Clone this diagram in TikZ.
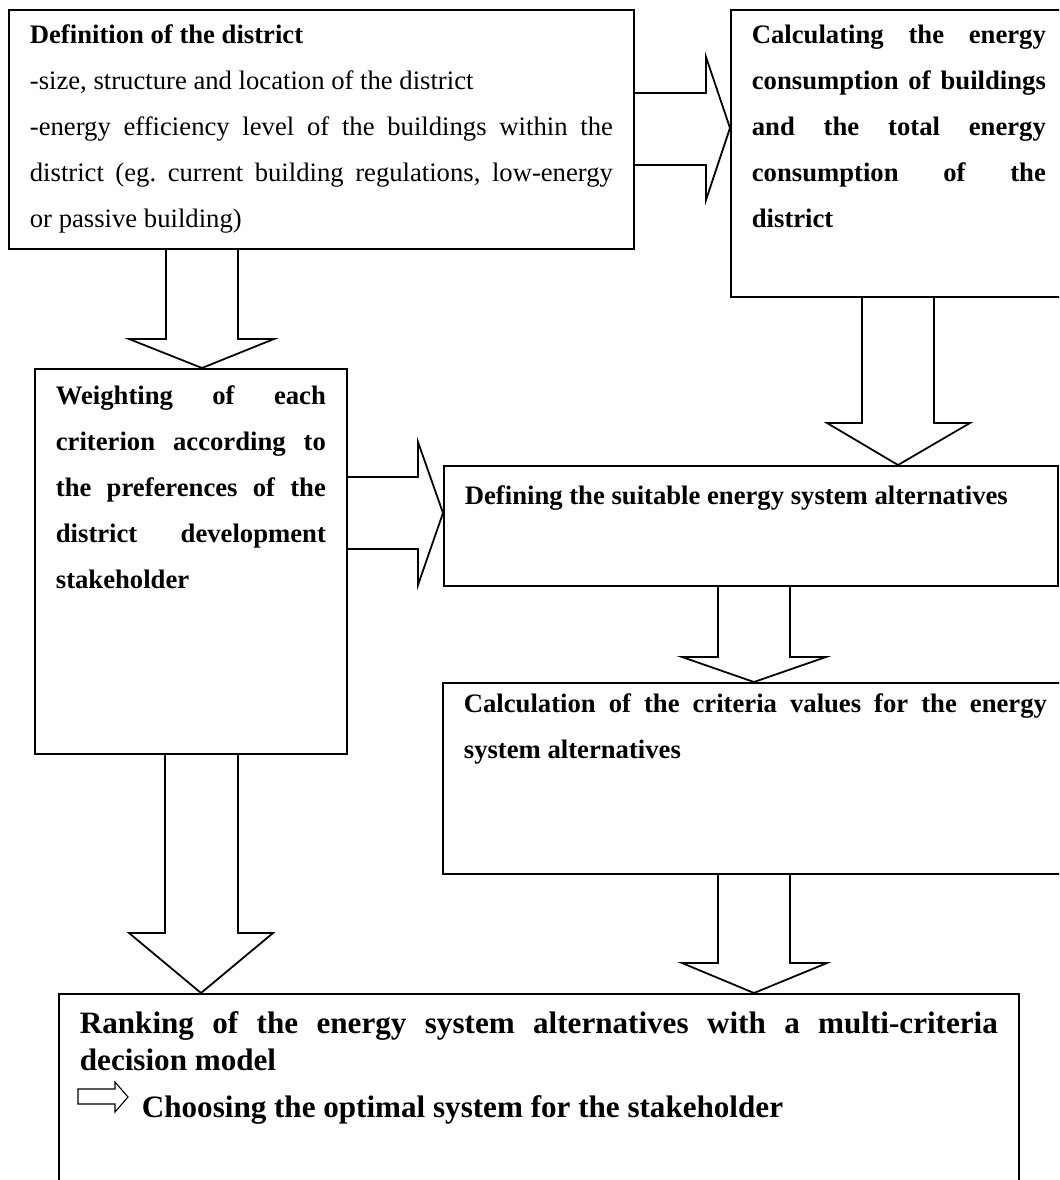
\documentclass[tikz,border=0pt]{standalone}
\usepackage{fontspec}
\setmainfont{Liberation Serif}
\usepackage{tikz}
\frenchspacing

\begin{document}
\begin{tikzpicture}[x=0.45pt, y=-0.45pt,
  box/.style={draw, rectangle, line width=0.8pt, anchor=north west,
    inner xsep=9.45pt, inner ysep=0pt, align=justify,
    font=\fontsize{12}{20.7}\selectfont},
  boldbox/.style={box, font=\bfseries\fontsize{12}{20.7}\selectfont},
  bigarrow/.style={draw, line width=0.8pt, line join=miter}]
\useasboundingbox (0,0) rectangle (1059,1180);
\clip (0,0) rectangle (1059,1180);

% definition of the district
\node[box, text width=262.35pt, text height=15.3pt, text depth=92.25pt] (district) at (8,9)
{\textbf{Definition of the district}\\
-size, structure and location of the district\\
-energy efficiency level of the buildings within the\linebreak
district (eg. current building regulations, low-energy\linebreak
or passive building)};

% energy consumption
\node[boldbox, text width=132.3pt, text height=15.3pt, text depth=113.85pt] (consumption) at (730,9)
{Calculating the energy\linebreak consumption of buildings\linebreak and the total energy\linebreak consumption of the\linebreak district};

% weighting of the criteria
\node[boldbox, text width=121.5pt, text height=16.2pt, text depth=157.05pt] (weighting) at (34,368)
{Weighting of each\linebreak criterion according to\linebreak the preferences of the\linebreak district development\linebreak stakeholder};

% energy system alternatives
\node[boldbox, text width=257.4pt, text height=17.5pt, text depth=36.5pt] (alternatives) at (443,465)
{Defining the suitable energy system alternatives};

% criteria values
\node[boldbox, text width=262.35pt, text height=13.5pt, text depth=72.45pt] (criteria) at (442,682)
{Calculation of the criteria values for the energy\linebreak system alternatives};

% ranking
\node[box, font=\bfseries\fontsize{14}{16.65}\selectfont, text width=413.1pt, text height=18pt, text depth=75.15pt] (ranking) at (58,993)
{Ranking of the energy system alternatives with a multi-criteria\linebreak decision model\\[4.5pt]
\hspace*{27.9pt}Choosing the optimal system for the stakeholder};

% small hollow arrow in front of the last line
\draw[line width=0.5pt, line join=miter] (78,1089) -- (115,1089) -- (115,1082) -- (128,1097)
  -- (115,1112) -- (115,1104) -- (78,1104) -- cycle;

% block arrows
\draw[bigarrow] (district.east |- 0,93) -- (706,93) -- (706,57) -- (consumption.west |- 0,128)
  -- (706,200) -- (706,165) -- (district.east |- 0,165);
\draw[bigarrow] (166,0 |- district.south) -- (166,339) -- (129,339) -- (202,0 |- weighting.north)
  -- (274,339) -- (238,339) -- (238,0 |- district.south);
\draw[bigarrow] (862,0 |- consumption.south) -- (862,423) -- (827,423) -- (898,0 |- alternatives.north)
  -- (970,423) -- (934,423) -- (934,0 |- consumption.south);
\draw[bigarrow] (weighting.east |- 0,477) -- (418,477) -- (418,442) -- (alternatives.west |- 0,513)
  -- (418,585) -- (418,549) -- (weighting.east |- 0,549);
\draw[bigarrow] (718,0 |- alternatives.south) -- (718,657) -- (682,657) -- (754,0 |- criteria.north)
  -- (826,657) -- (790,657) -- (790,0 |- alternatives.south);
\draw[bigarrow] (165,0 |- weighting.south) -- (165,933) -- (129,933) -- (201,0 |- ranking.north)
  -- (273,933) -- (238,933) -- (238,0 |- weighting.south);
\draw[bigarrow] (718,0 |- criteria.south) -- (718,963) -- (682,963) -- (754,0 |- ranking.north)
  -- (827,963) -- (790,963) -- (790,0 |- criteria.south);
\end{tikzpicture}
\end{document}
